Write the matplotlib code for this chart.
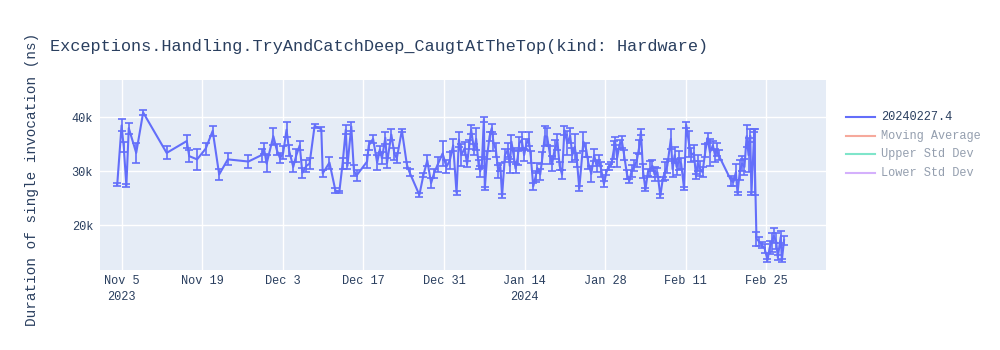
import pandas as pd
import matplotlib
matplotlib.use("Agg")
import matplotlib.pyplot as plt
import matplotlib.dates as mdates
from matplotlib.lines import Line2D

# data (values in thousands of ns)
dates = [
    "2023-11-04 05:00", "2023-11-04 23:00", "2023-11-05 08:00", "2023-11-05 19:00", "2023-11-06 05:00",
    "2023-11-07 12:00", "2023-11-08 17:00", "2023-11-12 19:00", "2023-11-16 07:00", "2023-11-16 17:00",
    "2023-11-18 02:00", "2023-11-19 14:00", "2023-11-20 19:00", "2023-11-21 22:00", "2023-11-23 10:00",
    "2023-11-27 00:00", "2023-11-29 07:00", "2023-11-29 17:00", "2023-11-30 04:00", "2023-12-01 08:00",
    "2023-12-01 22:00", "2023-12-02 12:00", "2023-12-03 01:00", "2023-12-03 15:00", "2023-12-04 02:00",
    "2023-12-04 19:00", "2023-12-05 08:00", "2023-12-05 22:00", "2023-12-06 09:00", "2023-12-07 02:00",
    "2023-12-07 15:00", "2023-12-08 12:00", "2023-12-09 16:00", "2023-12-09 22:00", "2023-12-11 02:00",
    "2023-12-12 03:00", "2023-12-12 19:00", "2023-12-13 09:00", "2023-12-13 22:00", "2023-12-14 05:00",
    "2023-12-14 21:00", "2023-12-15 08:00", "2023-12-15 19:00", "2023-12-17 15:00", "2023-12-17 22:00",
    "2023-12-18 16:00", "2023-12-19 09:00", "2023-12-19 20:00", "2023-12-20 05:00", "2023-12-20 19:00",
    "2023-12-21 02:00", "2023-12-21 20:00", "2023-12-22 09:00", "2023-12-22 19:00", "2023-12-23 16:00",
    "2023-12-24 13:00", "2023-12-25 00:00", "2023-12-26 17:00", "2023-12-27 10:00", "2023-12-28 02:00",
    "2023-12-28 18:00", "2023-12-29 06:00", "2023-12-29 21:00", "2023-12-30 18:00", "2023-12-31 10:00",
    "2024-01-01 00:00", "2024-01-01 14:00", "2024-01-02 04:00", "2024-01-02 14:00", "2024-01-03 00:00",
    "2024-01-03 14:00", "2024-01-04 00:00", "2024-01-04 10:00", "2024-01-04 17:00", "2024-01-05 05:00",
    "2024-01-05 14:00", "2024-01-06 00:00", "2024-01-06 07:00", "2024-01-06 14:00", "2024-01-06 22:00",
    "2024-01-07 02:00", "2024-01-07 12:00", "2024-01-07 22:00", "2024-01-08 07:00", "2024-01-08 14:00",
    "2024-01-09 00:00", "2024-01-09 10:00", "2024-01-09 19:00", "2024-01-10 02:00", "2024-01-10 14:00",
    "2024-01-11 02:00", "2024-01-11 10:00", "2024-01-11 17:00", "2024-01-12 02:00", "2024-01-12 10:00",
    "2024-01-12 19:00", "2024-01-13 02:00", "2024-01-13 12:00", "2024-01-13 22:00", "2024-01-14 07:00",
    "2024-01-14 17:00", "2024-01-15 02:00", "2024-01-15 12:00", "2024-01-15 22:00", "2024-01-16 05:00",
    "2024-01-16 17:00", "2024-01-17 02:00", "2024-01-17 12:00", "2024-01-17 22:00", "2024-01-18 10:00",
    "2024-01-18 19:00", "2024-01-19 05:00", "2024-01-19 17:00", "2024-01-20 02:00", "2024-01-20 12:00",
    "2024-01-20 22:00", "2024-01-21 10:00", "2024-01-21 22:00", "2024-01-22 07:00", "2024-01-22 17:00",
    "2024-01-23 02:00", "2024-01-23 12:00", "2024-01-24 05:00", "2024-01-24 17:00", "2024-01-25 02:00",
    "2024-01-25 14:00", "2024-01-26 02:00", "2024-01-26 12:00", "2024-01-26 22:00", "2024-01-27 07:00",
    "2024-01-27 19:00", "2024-01-28 05:00", "2024-01-28 14:00", "2024-01-29 02:00", "2024-01-29 12:00",
    "2024-01-29 17:00", "2024-01-30 02:00", "2024-01-30 12:00", "2024-01-30 22:00", "2024-01-31 07:00",
    "2024-01-31 19:00", "2024-02-01 05:00", "2024-02-01 14:00", "2024-02-02 02:00", "2024-02-02 12:00",
    "2024-02-02 22:00", "2024-02-03 05:00", "2024-02-03 14:00", "2024-02-04 00:00", "2024-02-04 10:00",
    "2024-02-04 19:00", "2024-02-05 05:00", "2024-02-05 14:00", "2024-02-06 02:00", "2024-02-06 14:00",
    "2024-02-07 00:00", "2024-02-07 10:00", "2024-02-07 19:00", "2024-02-08 10:00", "2024-02-08 17:00",
    "2024-02-09 02:00", "2024-02-09 10:00", "2024-02-09 19:00", "2024-02-10 05:00", "2024-02-10 17:00",
    "2024-02-11 02:00", "2024-02-11 14:00", "2024-02-12 00:00", "2024-02-12 10:00", "2024-02-12 19:00",
    "2024-02-13 02:00", "2024-02-13 12:00", "2024-02-13 22:00", "2024-02-14 10:00", "2024-02-14 19:00",
    "2024-02-15 05:00", "2024-02-15 17:00", "2024-02-16 02:00", "2024-02-16 10:00", "2024-02-16 17:00",
    "2024-02-18 22:00", "2024-02-19 07:00", "2024-02-19 17:00", "2024-02-20 00:00", "2024-02-20 10:00",
    "2024-02-20 19:00", "2024-02-21 05:00", "2024-02-21 14:00", "2024-02-21 22:00", "2024-02-22 05:00",
    "2024-02-22 10:00", "2024-02-22 22:00", "2024-02-23 00:00", "2024-02-23 07:00", "2024-02-23 17:00",
    "2024-02-24 05:00", "2024-02-24 17:00", "2024-02-25 05:00", "2024-02-25 14:00", "2024-02-25 22:00",
    "2024-02-26 07:00", "2024-02-26 17:00", "2024-02-27 00:00", "2024-02-27 12:00", "2024-02-27 17:00",
    "2024-02-28 02:00",
]

values_k = [
    27.6, 38.5, 34.5, 27.3, 38.0, 33.4, 40.9, 33.4, 35.6, 32.8,
    32.2, 34.2, 37.5, 29.4, 32.2, 31.8, 33.0, 34.2, 31.4, 36.5,
    34.0, 32.4, 33.4, 37.7, 33.8, 30.8, 33.0, 34.8, 29.7, 31.0,
    31.4, 38.4, 37.8, 29.6, 31.6, 26.4, 26.1, 31.5, 37.7, 31.0,
    38.3, 30.1, 29.2, 31.8, 34.8, 36.0, 31.6, 34.0, 32.4, 36.2,
    31.5, 36.8, 33.2, 32.4, 37.6, 31.2, 29.8, 25.6, 29.3, 32.0,
    27.8, 29.6, 31.2, 33.3, 30.8, 32.0, 34.8, 26.0, 35.9, 33.0,
    34.3, 31.3, 35.0, 37.7, 34.0, 36.0, 31.2, 30.0, 31.6, 39.6,
    26.8, 33.0, 36.5, 38.0, 35.3, 34.0, 30.0, 30.8, 25.4, 33.0,
    34.0, 31.0, 35.5, 33.0, 30.5, 32.5, 35.2, 35.8, 33.0, 35.0,
    36.0, 32.6, 27.2, 29.0, 30.6, 29.4, 32.5, 36.5, 36.4, 33.0,
    31.4, 34.0, 35.5, 31.0, 29.4, 37.6, 35.2, 36.6, 33.0, 34.5,
    32.0, 26.8, 35.5, 34.0, 31.5, 29.5, 33.0, 31.0, 32.0, 30.4,
    27.6, 29.8, 30.8, 31.3, 34.0, 35.6, 32.5, 35.0, 35.5, 33.0,
    29.4, 28.2, 30.0, 31.0, 32.0, 34.5, 37.3, 30.0, 26.6, 29.8,
    30.4, 31.0, 29.4, 29.8, 25.4, 28.5, 30.0, 31.0, 36.0, 30.4,
    33.0, 30.8, 32.0, 31.4, 26.8, 38.6, 35.0, 33.0, 33.4, 29.0,
    31.5, 30.5, 29.8, 33.8, 36.2, 33.5, 34.8, 33.0, 34.0, 33.0,
    28.2, 28.0, 29.8, 25.9, 30.2, 31.4, 30.8, 36.5, 33.0, 36.6,
    25.8, 37.6, 31.7, 17.5, 17.0, 16.3, 15.7, 13.5, 15.8, 16.8,
    18.0, 17.0, 14.0, 17.8, 13.5, 17.2,
]

errors_k = [
    0.3, 1.1, 1.0, 0.3, 1.0, 1.8, 0.5, 1.2, 1.2, 1.1,
    2.0, 1.1, 0.9, 1.0, 1.1, 1.2, 1.2, 1.0, 1.6, 1.6,
    1.0, 0.9, 1.2, 1.4, 1.0, 0.9, 1.2, 0.9, 0.9, 1.1,
    1.0, 0.3, 0.4, 0.6, 1.1, 0.4, 0.2, 1.0, 0.8, 0.6,
    0.8, 1.0, 1.1, 1.2, 0.9, 0.8, 1.4, 0.6, 1.1, 1.1,
    0.9, 1.0, 1.1, 0.9, 0.3, 0.6, 0.7, 0.3, 0.4, 1.0,
    0.9, 0.9, 1.4, 2.4, 1.2, 1.5, 1.1, 0.4, 1.4, 2.0,
    1.2, 0.6, 0.8, 0.8, 1.0, 2.0, 0.8, 1.0, 1.0, 0.4,
    0.3, 0.8, 0.8, 0.7, 1.6, 1.3, 1.2, 0.8, 0.3, 1.2,
    1.3, 1.3, 1.3, 1.3, 0.8, 1.3, 1.2, 1.5, 1.1, 1.0,
    1.3, 1.1, 0.6, 1.0, 1.0, 1.1, 1.1, 1.8, 1.6, 1.6,
    1.4, 1.8, 1.5, 0.8, 0.8, 0.8, 2.2, 1.4, 1.3, 2.4,
    1.3, 0.4, 1.8, 1.3, 1.1, 1.5, 1.1, 1.1, 1.1, 1.4,
    0.5, 0.5, 0.5, 0.5, 1.7, 0.8, 1.7, 0.8, 1.1, 1.0,
    0.8, 0.3, 1.1, 1.0, 1.3, 1.3, 0.6, 1.3, 0.3, 0.6,
    1.5, 1.0, 1.3, 0.8, 0.3, 0.4, 1.7, 1.3, 1.8, 1.5,
    1.5, 1.5, 1.7, 1.0, 0.3, 0.5, 2.4, 1.3, 1.5, 0.4,
    1.5, 1.4, 0.9, 1.2, 0.9, 2.5, 0.8, 1.2, 1.2, 0.9,
    0.9, 0.8, 1.5, 0.3, 1.8, 1.4, 1.5, 2.0, 3.2, 1.2,
    0.3, 0.3, 6.1, 1.3, 0.8, 0.6, 0.8, 0.3, 1.2, 1.8,
    1.4, 1.5, 0.4, 1.2, 0.3, 0.8,
]

tick_dates = ["2023-11-05", "2023-11-19", "2023-12-03", "2023-12-17", "2023-12-31",
              "2024-01-14", "2024-01-28", "2024-02-11", "2024-02-25"]
tick_labels = ["Nov 5\n2023", "Nov 19", "Dec 3", "Dec 17", "Dec 31",
               "Jan 14\n2024", "Jan 28", "Feb 11", "Feb 25"]
y_ticks = [20000, 30000, 40000]
y_tick_labels = ["20k", "30k", "40k"]

legend_names = ["20240227.4", "Moving Average", "Upper Std Dev", "Lower Std Dev"]
legend_colors = ["#636efa", "#EF553B", "#00cc96", "#ab63fa"]

title = "Exceptions.Handling.TryAndCatchDeep_CaugtAtTheTop(kind: Hardware)"
y_title = "Duration of single invocation (ns)"

FONT = "Liberation Mono"
TEXT = "#2a3f5f"


def main():
    x = pd.to_datetime(dates)
    y = [v * 1000 for v in values_k]
    err = [e * 1000 for e in errors_k]

    fig = plt.figure(figsize=(10, 3.5), dpi=100)
    ax = fig.add_axes([0.1, 0.229, 0.726, 0.542])
    ax.set_facecolor("#E5ECF6")

    ax.errorbar(x, y, yerr=err, color="#636efa", lw=1.5, elinewidth=1.2,
                capsize=3, capthick=1.2, zorder=3)

    ax.set_xlim(pd.Timestamp("2023-11-01 05:00"), pd.Timestamp("2024-03-06 09:00"))
    ax.set_ylim(11700, 46900)

    ax.set_xticks(mdates.date2num(pd.to_datetime(tick_dates)))
    ax.set_xticklabels(tick_labels, fontfamily=FONT, fontsize=8.6, color=TEXT,
                       linespacing=1.35)
    ax.set_yticks(y_ticks)
    ax.set_yticklabels(y_tick_labels, fontfamily=FONT, fontsize=8.6, color=TEXT)
    ax.tick_params(length=0)
    ax.tick_params(axis="x", pad=4)
    ax.tick_params(axis="y", pad=5)
    ax.grid(True, color="white", lw=1)
    ax.set_axisbelow(True)
    for s in ax.spines.values():
        s.set_visible(False)

    fig.text(0.05, 1 - 46 / 350, title, fontfamily=FONT, fontsize=12.2,
             color=TEXT, va="center", ha="left")
    fig.text(0.032, 1 - 179 / 350, y_title, fontfamily=FONT, fontsize=10.4,
             color=TEXT, rotation=90, va="center", ha="center")

    # legend drawn in figure pixels (first trace active, others hidden)
    for i, (name, col) in enumerate(zip(legend_names, legend_colors)):
        yy = 1 - (117 + i * 18.5) / 350
        alpha = 1.0 if i == 0 else 0.5
        fig.add_artist(Line2D([0.846, 0.875], [yy, yy], color=col, lw=1.5,
                              alpha=alpha, transform=fig.transFigure))
        fig.text(0.881, yy, name, fontfamily=FONT, fontsize=8.6, color=TEXT,
                 alpha=alpha, va="center", ha="left")

    fig.savefig("out.png", dpi=100)


if __name__ == "__main__":
    main()
